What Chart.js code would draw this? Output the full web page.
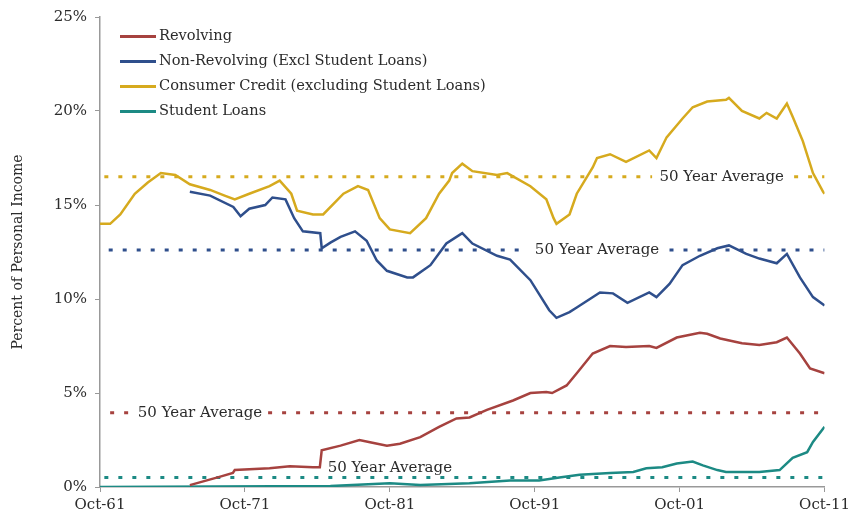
<!DOCTYPE html>
<html>
<head>
<meta charset="utf-8">
<script src="https://cdn.jsdelivr.net/npm/chart.js@4/dist/chart.umd.min.js"></script>
<style>
  body { margin: 0; background: #fff; }
  #wrap { position: relative; width: 854px; height: 525px; }
  #legend { position: absolute; left: 120px; top: 24px; font-family: "DejaVu Serif", serif; font-size: 14.6px; color: #2b2b2b; }
  #legend div { height: 25px; line-height: 22px; white-space: nowrap; }
  #legend span.sw { display: inline-block; width: 36px; height: 3px; vertical-align: middle; margin-right: 3px; }
</style>
</head>
<body>
<div id="wrap">
  <canvas id="myChart" width="854" height="525"></canvas>
  <div id="legend"></div>
</div>
<script>
// x values are years since Oct-61
const seriesNames = ['Revolving', 'Non-Revolving (Excl Student Loans)', 'Consumer Credit (excluding Student Loans)', 'Student Loans'];
const seriesColors = ['#a6423f', '#2f4f8c', '#d6aa1e', '#1c8a84'];

const revolvingX = [6.2, 8.3, 9.17, 9.3, 11.7, 13.1, 14.7, 15.17, 15.3, 16.6, 17.9, 18.8, 19.8, 20.7, 22.1, 23.4, 24.6, 25.5, 26.7, 28.5, 29.7, 30.8, 31.2, 32.2, 32.9, 34.0, 35.2, 36.3, 37.9, 38.4, 39.8, 41.4, 41.9, 42.8, 44.3, 45.5, 46.7, 47.4, 48.3, 49.0, 50];
const revolvingY = [0.1, 0.55, 0.75, 0.9, 1.0, 1.1, 1.05, 1.05, 1.95, 2.2, 2.5, 2.35, 2.2, 2.3, 2.65, 3.2, 3.65, 3.7, 4.1, 4.6, 5.0, 5.05, 5.0, 5.4, 6.05, 7.1, 7.5, 7.45, 7.5, 7.4, 7.95, 8.2, 8.15, 7.9, 7.65, 7.55, 7.7, 7.95, 7.1, 6.3, 6.05];

const nonRevX = [6.2, 7.6, 9.2, 9.7, 10.3, 11.4, 11.9, 12.8, 13.4, 14.0, 15.2, 15.3, 15.9, 16.6, 17.6, 18.4, 19.1, 19.8, 21.2, 21.6, 22.8, 23.9, 25.0, 25.7, 27.4, 28.3, 29.7, 31.0, 31.5, 32.4, 32.9, 34.5, 35.4, 36.4, 37.9, 38.4, 39.3, 40.2, 41.4, 42.6, 43.4, 44.6, 45.5, 46.7, 47.4, 48.3, 49.2, 50];
const nonRevY = [15.7, 15.5, 14.9, 14.4, 14.8, 15.0, 15.4, 15.3, 14.3, 13.6, 13.5, 12.7, 13.0, 13.3, 13.6, 13.1, 12.05, 11.5, 11.15, 11.15, 11.8, 12.95, 13.5, 12.95, 12.3, 12.1, 11.0, 9.4, 9.0, 9.3, 9.55, 10.35, 10.3, 9.8, 10.35, 10.1, 10.8, 11.8, 12.3, 12.7, 12.85, 12.4, 12.15, 11.9, 12.4, 11.15, 10.1, 9.65];

const consumerX = [0, 0.7, 1.4, 2.4, 3.3, 4.2, 5.2, 6.2, 7.6, 8.6, 9.3, 10.3, 11.7, 12.4, 13.2, 13.6, 14.7, 15.4, 16.8, 17.8, 18.5, 19.3, 20.0, 21.4, 22.5, 23.4, 24.1, 24.3, 25.0, 25.7, 27.4, 28.1, 29.7, 30.8, 31.3, 31.5, 32.4, 32.9, 34.0, 34.3, 35.2, 36.3, 37.9, 38.4, 39.1, 40.2, 40.9, 41.9, 43.2, 43.4, 44.3, 45.5, 46.0, 46.7, 47.4, 47.8, 48.5, 49.2, 49.9, 50];
const consumerY = [14.0, 14.0, 14.5, 15.6, 16.2, 16.7, 16.6, 16.1, 15.8, 15.5, 15.3, 15.6, 16.0, 16.3, 15.6, 14.7, 14.5, 14.5, 15.6, 16.0, 15.8, 14.3, 13.7, 13.5, 14.3, 15.6, 16.3, 16.7, 17.2, 16.8, 16.6, 16.7, 16.0, 15.3, 14.3, 14.0, 14.5, 15.6, 17.0, 17.5, 17.7, 17.3, 17.9, 17.5, 18.6, 19.6, 20.2, 20.5, 20.6, 20.7, 20.0, 19.6, 19.9, 19.6, 20.4, 19.7, 18.4, 16.7, 15.7, 15.6];

const studentX = [0, 15.9, 20.0, 22.1, 25.5, 28.3, 30.3, 31.7, 33.1, 35.2, 36.8, 37.7, 38.8, 39.8, 40.9, 41.6, 42.6, 43.2, 45.5, 46.9, 47.8, 48.8, 49.2, 50];
const studentY = [0, 0.05, 0.2, 0.1, 0.2, 0.35, 0.35, 0.5, 0.65, 0.75, 0.8, 1.0, 1.05, 1.25, 1.35, 1.15, 0.9, 0.8, 0.8, 0.9, 1.55, 1.85, 2.4, 3.2];

// 50 year averages: revolving, non-revolving, consumer, student
const averages = [3.95, 12.6, 16.5, 0.5];
const avgLabel = '50 Year Average';

// where the average lines break for their labels (x from, x to) and where labels sit
const avgGaps = [[2.1, 11.6], [29.1, 39.3], [38.1, 47.9], null];
const avgStart = [0.7, 0.6, 0.3, 0.3];
const avgLabelPos = [[6.9, 3.95], [34.3, 12.6], [42.9, 16.5], [20.0, 1.0]];

function pts(xs, ys) {
  return xs.map((x, i) => ({ x: x, y: ys[i] }));
}

function avgLine(i) {
  const a = averages[i];
  const g = avgGaps[i];
  if (!g) return [{ x: avgStart[i], y: a }, { x: 50, y: a }];
  return [{ x: avgStart[i], y: a }, { x: g[0], y: a }, { x: g[0] + 0.01, y: null }, { x: g[1], y: a }, { x: 50, y: a }];
}

const lines = [pts(revolvingX, revolvingY), pts(nonRevX, nonRevY), pts(consumerX, consumerY), pts(studentX, studentY)];

let datasets = [];
lines.forEach((d, i) => {
  datasets.push({
    label: seriesNames[i],
    data: d,
    borderColor: seriesColors[i],
    borderWidth: 2.5,
    pointRadius: 0,
    tension: 0,
    order: 1
  });
});
averages.forEach((a, i) => {
  datasets.push({
    label: 'avg' + i,
    data: avgLine(i),
    borderColor: seriesColors[i],
    borderWidth: 3,
    borderDash: [4, 10],
    pointRadius: 0,
    spanGaps: false,
    order: 5
  });
});

// legend as html
const legend = document.getElementById('legend');
seriesNames.forEach((n, i) => {
  const row = document.createElement('div');
  row.innerHTML = '<span class="sw" style="background:' + seriesColors[i] + '"></span>' + n;
  legend.appendChild(row);
});

const avgLabels = {
  id: 'avgLabels',
  afterDatasetsDraw(chart) {
    const c = chart.ctx;
    const xs = chart.scales.x, ys = chart.scales.y;
    c.save();
    c.font = '15px "DejaVu Serif", serif';
    c.fillStyle = '#2b2b2b';
    c.textAlign = 'center';
    c.textBaseline = 'middle';
    avgLabelPos.forEach(p => {
      c.fillText(avgLabel, xs.getPixelForValue(p[0]), ys.getPixelForValue(p[1]));
    });
    c.restore();
  }
};

const tickFont = { family: '"DejaVu Serif", serif', size: 15 };

new Chart(document.getElementById('myChart').getContext('2d'), {
  type: 'line',
  data: { datasets: datasets },
  plugins: [avgLabels],
  options: {
    responsive: false,
    animation: false,
    layout: { padding: { top: 16, right: 29, bottom: 0, left: 0 } },
    plugins: { legend: { display: false }, tooltip: { enabled: false } },
    scales: {
      x: {
        type: 'linear',
        min: 0,
        max: 50,
        afterFit: s => { s.height = 38; },
        ticks: {
          stepSize: 10,
          color: '#2b2b2b',
          font: tickFont,
          padding: 4,
          maxRotation: 0,
          callback: v => 'Oct-' + String((61 + v) % 100).padStart(2, '0')
        },
        grid: { drawOnChartArea: false, drawTicks: true, tickLength: 5, color: '#999' },
        border: { color: '#999', width: 1.5 }
      },
      y: {
        min: 0,
        max: 25,
        afterFit: s => { s.width = 100; },
        ticks: {
          stepSize: 5,
          color: '#2b2b2b',
          font: tickFont,
          padding: 8,
          callback: v => v + '%'
        },
        title: {
          display: true,
          text: 'Percent of Personal Income',
          color: '#2b2b2b',
          font: { family: '"DejaVu Serif", serif', size: 14 },
          padding: { top: 10, bottom: 0 }
        },
        grid: { drawOnChartArea: false, drawTicks: true, tickLength: 5, color: '#999' },
        border: { color: '#999', width: 1.5 }
      }
    }
  }
});
</script>
</body>
</html>
